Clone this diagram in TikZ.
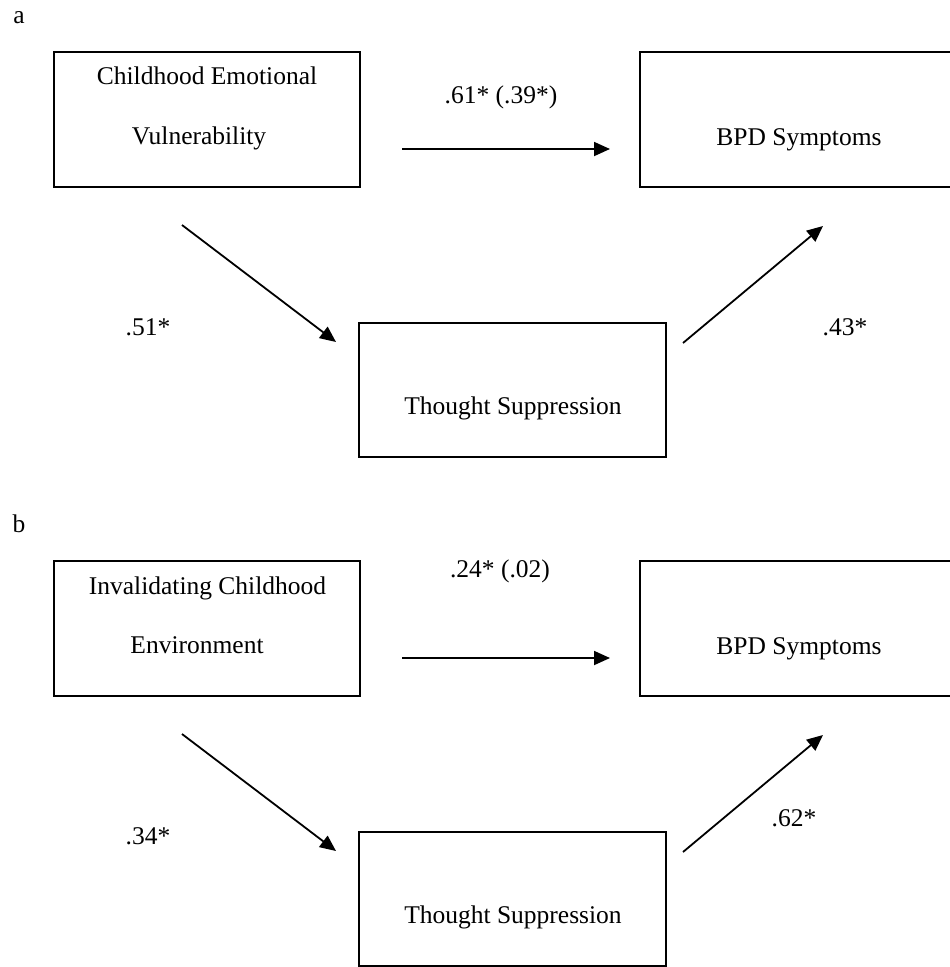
\documentclass[tikz,border=0pt]{standalone}
\usepackage{fontspec}
\setmainfont{Liberation Serif}
\usetikzlibrary{arrows.meta}

\tikzstyle{box}=[draw,line width=2pt,minimum height=135pt,inner sep=0pt]
\tikzstyle{word}=[anchor=base,inner sep=0pt,font=\fontsize{25.5}{30}\selectfont]
\tikzstyle{path arrow}=[draw,line width=1.8pt,-{Triangle[length=16pt,width=14pt]}]

\begin{document}
\begin{tikzpicture}[x=1pt,y=-1pt]
    \useasboundingbox (0,0) rectangle (950,967);
    % both panels share boxes and arrows
    \foreach \dy/\panel in {0/a, 509/b} {
      \begin{scope}[shift={(0,\dy)}]
        \node[box,minimum width=306pt] (cause\panel) at (207,119.5) {};
        \node[box,minimum width=318pt] (bpd\panel) at (799,119.5) {};
        \node[box,minimum width=307pt,minimum height=134pt] (ts\panel) at (512.5,390) {};
        \node[word] (bpdtxt\panel) at (799,145) {BPD Symptoms};
        \node[word] (tstxt\panel) at (513,414) {Thought Suppression};
        \node[word] (tag\panel) at (19,23) {\panel};
        \coordinate (dirS\panel) at (402,149);
        \coordinate (dirE\panel) at (610,149);
        \coordinate (pathaS\panel) at (182,225);
        \coordinate (pathaE\panel) at (336,342);
        \coordinate (pathbS\panel) at (683,343);
        \coordinate (pathbE\panel) at (823,226);
        \path[path arrow] (dirS\panel) -- (dirE\panel);
        \path[path arrow] (pathaS\panel) -- (pathaE\panel);
        \path[path arrow] (pathbS\panel) -- (pathbE\panel);
      \end{scope}
    }

    % panel a
    \node[word] (causetxta) at (207,84) {Childhood Emotional};
    \node[word] (causetxtaa) at (199,144) {Vulnerability};
    \node[word] (dirlaba) at (501,103) {.61* (.39*)};
    \node[word] (pathalaba) at (148,335) {.51*};
    \node[word] (pathblaba) at (845,335) {.43*};

    % panel b
    \node[word] (causetxtb) at (207.5,594) {Invalidating Childhood};
    \node[word] (causetxtbb) at (197,653) {Environment};
    \node[word] (dirlabb) at (500,577) {.24* (.02)};
    \node[word] (pathalabb) at (148,844) {.34*};
    \node[word] (pathblabb) at (794,826) {.62*};
\end{tikzpicture}
\end{document}
